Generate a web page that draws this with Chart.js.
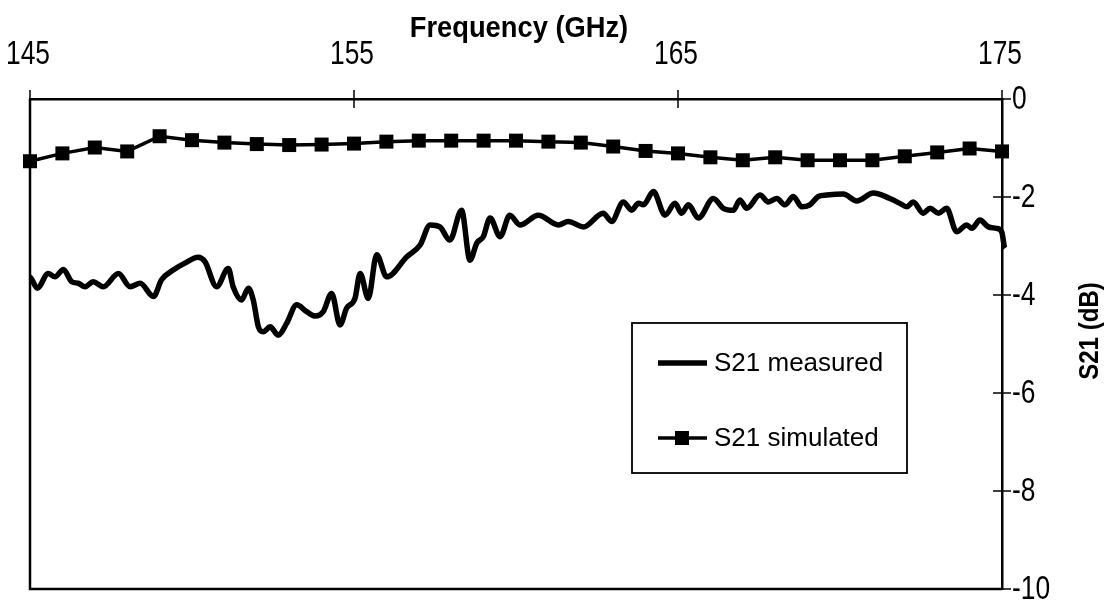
<!DOCTYPE html>
<html><head><meta charset="utf-8">
<script src="https://cdn.jsdelivr.net/npm/chart.js@4"></script>
<style>html,body{margin:0;padding:0;background:#fff}canvas{display:block}</style>
</head><body>
<canvas id="c" width="1118" height="603"></canvas>
<script>
const FONT = '"Liberation Sans",Arial,sans-serif';

const xTicks = [145, 155, 165, 175];
const yTicks = [0, -2, -4, -6, -8, -10];
const seriesNames = ['S21 measured', 'S21 simulated'];
const xTitle = 'Frequency (GHz)';
const yTitle = 'S21 (dB)';

const simFreq = [145,146,147,148,149,150,151,152,153,154,155,156,157,158,159,160,161,162,163,164,165,166,167,168,169,170,171,172,173,174,175];
const simS21 = [-1.27,-1.11,-0.99,-1.07,-0.76,-0.84,-0.89,-0.92,-0.94,-0.93,-0.91,-0.87,-0.85,-0.85,-0.85,-0.85,-0.87,-0.89,-0.97,-1.06,-1.11,-1.19,-1.25,-1.19,-1.25,-1.25,-1.25,-1.17,-1.09,-1.01,-1.07];

const measFreq = [144.79,144.98,145.23,145.56,145.77,146.03,146.29,146.49,146.70,146.95,147.26,147.73,148.09,148.40,148.81,149.06,149.42,149.78,150.19,150.40,150.76,151.12,151.27,151.53,151.74,151.89,152.05,152.20,152.41,152.66,152.92,153.23,153.54,153.80,154.05,154.31,154.57,154.77,155.03,155.19,155.44,155.70,156.01,156.63,157.04,157.35,157.65,157.96,158.32,158.58,158.79,158.99,159.20,159.51,159.81,160.12,160.69,161.31,161.61,162.08,162.69,162.95,163.31,163.57,163.78,163.93,164.24,164.60,164.91,165.11,165.32,165.63,166.09,166.40,166.71,166.91,167.12,167.53,167.79,168.05,168.30,168.56,168.82,169.07,169.33,169.59,170.10,170.52,171.03,171.54,171.85,172.06,172.26,172.57,172.78,173.04,173.29,173.60,173.91,174.07,174.32,174.58,174.83,174.99,175.09,175.19];
const measS21 = [-4.03,-3.63,-3.86,-3.56,-3.63,-3.48,-3.73,-3.76,-3.83,-3.73,-3.83,-3.56,-3.83,-3.76,-4.03,-3.69,-3.49,-3.35,-3.23,-3.32,-3.83,-3.46,-3.83,-4.10,-3.86,-4.10,-4.65,-4.75,-4.65,-4.82,-4.58,-4.20,-4.34,-4.43,-4.34,-3.97,-4.61,-4.27,-4.07,-3.56,-4.07,-3.18,-3.63,-3.22,-2.98,-2.57,-2.61,-2.88,-2.27,-3.29,-2.94,-2.81,-2.43,-2.81,-2.37,-2.57,-2.37,-2.57,-2.50,-2.61,-2.33,-2.50,-2.10,-2.27,-2.13,-2.16,-1.89,-2.37,-2.13,-2.33,-2.16,-2.43,-2.03,-2.23,-2.27,-2.06,-2.23,-1.96,-2.10,-2.03,-2.16,-1.99,-2.20,-2.16,-1.99,-1.96,-1.94,-2.08,-1.92,-2.03,-2.13,-2.20,-2.10,-2.33,-2.23,-2.33,-2.23,-2.71,-2.57,-2.64,-2.47,-2.61,-2.64,-2.71,-3.05,-3.08];

function drawText(ctx, s, x, y, font, sx, align, baseline, rot) {
  ctx.save();
  ctx.translate(x, y);
  if (rot) ctx.rotate(rot);
  ctx.scale(sx, 1);
  ctx.font = font;
  ctx.textAlign = align;
  ctx.textBaseline = baseline;
  ctx.fillText(s, 0, 0);
  ctx.restore();
}

const decor = {
  id: 'decor',
  afterDraw(chart) {
    const {ctx, chartArea: a, scales: {x, y}} = chart;
    ctx.save();
    ctx.strokeStyle = '#000';
    ctx.fillStyle = '#000';
    // left and bottom frame
    ctx.lineWidth = 2.5;
    ctx.beginPath();
    ctx.moveTo(a.left, a.top);
    ctx.lineTo(a.left, a.bottom);
    ctx.lineTo(a.right, a.bottom);
    ctx.stroke();
    // crossing tick marks + tick labels
    ctx.lineWidth = 1.5;
    xTicks.forEach(v => {
      const px = x.getPixelForValue(v);
      ctx.beginPath(); ctx.moveTo(px, a.top - 9); ctx.lineTo(px, a.top + 9); ctx.stroke();
      drawText(ctx, String(v), px - 2, a.top - 35, '33px ' + FONT, 0.8, 'center', 'alphabetic');
    });
    yTicks.forEach(v => {
      const py = y.getPixelForValue(v);
      ctx.beginPath(); ctx.moveTo(a.right - 9, py); ctx.lineTo(a.right + 9, py); ctx.stroke();
      drawText(ctx, String(v), a.right + 10, py + 1, '33px ' + FONT, 0.8, 'left', 'middle');
    });
    // axis titles
    drawText(ctx, xTitle, (a.left + a.right) / 2 + 3, 37, 'bold 30px ' + FONT, 0.91, 'center', 'alphabetic');
    drawText(ctx, yTitle, a.right + 88, 331, 'bold 28px ' + FONT, 0.86, 'center', 'middle', -Math.PI / 2);
    // legend box
    const lx = a.left + 602, ly = a.top + 224, lw = 275, lh = 150;
    ctx.lineWidth = 1.8;
    ctx.strokeRect(lx, ly, lw, lh);
    const ds = chart.data.datasets;
    const rows = [ly + 40, ly + 115];
    ctx.lineWidth = ds[0].borderWidth;
    ctx.beginPath(); ctx.moveTo(lx + 26, rows[0]); ctx.lineTo(lx + 75, rows[0]); ctx.stroke();
    drawText(ctx, ds[0].label, lx + 82, rows[0] + 1, '26px ' + FONT, 1, 'left', 'middle');
    ctx.lineWidth = ds[1].borderWidth;
    ctx.beginPath(); ctx.moveTo(lx + 26, rows[1]); ctx.lineTo(lx + 75, rows[1]); ctx.stroke();
    ctx.fillRect(lx + 50 - 7, rows[1] - 7, 14, 14);
    drawText(ctx, ds[1].label, lx + 82, rows[1] + 1, '26px ' + FONT, 1, 'left', 'middle');
    ctx.restore();
  }
};

new Chart(document.getElementById('c'), {
  type: 'line',
  data: {
    datasets: [
      {
        label: seriesNames[0],
        data: measFreq.map((f, i) => ({x: f, y: measS21[i]})),
        borderColor: '#000',
        borderWidth: 5.5,
        pointRadius: 0,
        cubicInterpolationMode: 'monotone',
        fill: false,
        clip: false
      },
      {
        label: seriesNames[1],
        data: simFreq.map((f, i) => ({x: f, y: simS21[i]})),
        borderColor: '#000',
        borderWidth: 3.5,
        pointStyle: 'rect',
        pointRadius: 9.9,
        pointBackgroundColor: '#000',
        pointBorderWidth: 0,
        tension: 0,
        fill: false,
        clip: false
      }
    ]
  },
  options: {
    responsive: false,
    animation: false,
    devicePixelRatio: 1,
    layout: {padding: {left: 30, right: 0, top: 0, bottom: 14}},
    plugins: {legend: {display: false}, tooltip: {enabled: false}},
    scales: {
      x: {
        type: 'linear', position: 'top', min: 145, max: 175,
        afterBuildTicks: s => { s.ticks = xTicks.map(v => ({value: v})); },
        afterFit: s => { s.height = 99; },
        grid: {display: true, drawOnChartArea: false, drawTicks: false},
        border: {display: true, color: '#000', width: 2.5},
        ticks: {display: false},
        title: {display: false}
      },
      y: {
        type: 'linear', position: 'right', min: -10, max: 0,
        afterBuildTicks: s => { s.ticks = yTicks.map(v => ({value: v})); },
        afterFit: s => { s.width = 116; },
        grid: {display: true, drawOnChartArea: false, drawTicks: false},
        border: {display: true, color: '#000', width: 2.5},
        ticks: {display: false}
      }
    }
  },
  plugins: [decor]
});
</script>
</body></html>
